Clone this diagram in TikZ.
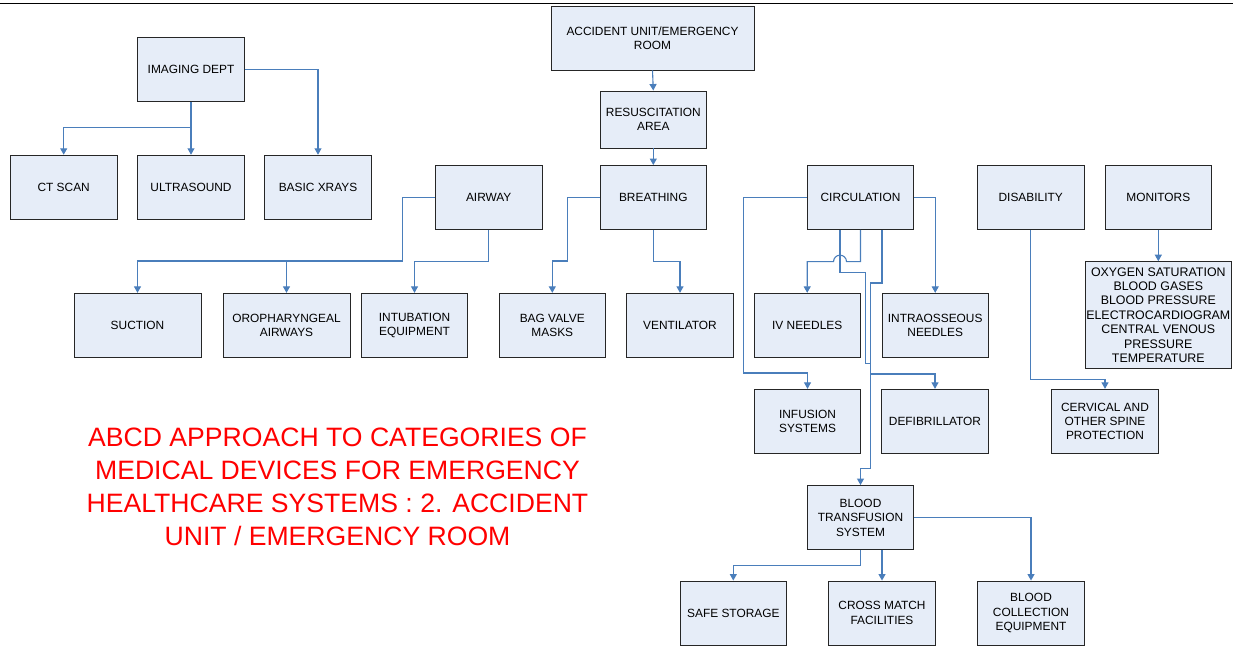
\documentclass[tikz,border=0pt]{standalone}
\usepackage{fontspec}
\setmainfont{Liberation Sans}
\usetikzlibrary{arrows.meta}
\definecolor{boxfill}{HTML}{E6EDF8}
\definecolor{linkblue}{HTML}{4A7EBB}
\definecolor{titlered}{HTML}{FF0000}
\begin{document}
\begin{tikzpicture}[x=1pt,y=-1pt,
  box/.style={draw=black!85, line width=0.9pt, fill=boxfill,
    minimum width=106.5pt, minimum height=64pt, inner sep=0pt,
    align=center, font=\fontsize{11.9}{14.4}\selectfont},
  widebox/.style={box, minimum width=127pt},
  link/.style={draw=linkblue, line width=1.1pt,
    -{Triangle[width=7pt,length=6.5pt]}},
]
\useasboundingbox (0,0) rectangle (1233,646);
% header rule
\draw[line width=1pt] (0,3) -- (1233,3);

% main spine
\node[box, minimum width=203pt] (acc) at (652.5,38) {ACCIDENT UNIT/EMERGENCY\\ROOM};
\node[box, minimum height=57pt] (resus) at (653.3,119.5) {RESUSCITATION\\AREA};
\node[box] (breath) at (653.3,197.5) {BREATHING};

% imaging
\node[box] (img) at (191,69.5) {IMAGING DEPT};
\node[box] (ct) at (63.7,187.2) {CT SCAN};
\node[box] (us) at (191,187.2) {ULTRASOUND};
\node[box] (xray) at (318,187.2) {BASIC XRAYS};

% airway
\node[box] (air) at (488.7,197.5) {AIRWAY};
\node[widebox] (suct) at (137.5,325.3) {SUCTION};
\node[widebox] (oro) at (286.5,325.3) {OROPHARYNGEAL\\AIRWAYS};
\node[box] (intub) at (414.5,325.3) {INTUBATION\\EQUIPMENT};

% breathing
\node[box] (bvm) at (552.3,325.3) {BAG VALVE\\MASKS};
\node[box] (vent) at (680,325.3) {VENTILATOR};

% circulation
\node[box] (circ) at (860.5,197.5) {CIRCULATION};
\node[box] (ivn) at (807.2,325.3) {IV NEEDLES};
\node[box] (ion) at (935.2,325.3) {INTRAOSSEOUS\\NEEDLES};
\node[box] (inf) at (807.5,421.3) {INFUSION\\SYSTEMS};
\node[box] (defib) at (935,421.3) {DEFIBRILLATOR};
\node[box] (bts) at (860.5,517.5) {BLOOD\\TRANSFUSION\\SYSTEM};
\node[box] (safe) at (733.3,613) {SAFE STORAGE};
\node[box] (xmatch) at (882,613) {CROSS MATCH\\FACILITIES};
\node[box] (bce) at (1031,613) {BLOOD\\COLLECTION\\EQUIPMENT};

% disability and monitors
\node[box] (dis) at (1030.7,197.5) {DISABILITY};
\node[box] (mon) at (1158.3,197.5) {MONITORS};
\node[box, minimum width=146.7pt, minimum height=106.7pt,
  font=\fontsize{12.4}{14.4}\selectfont] (monlist) at (1158.3,315)
  {OXYGEN SATURATION\\BLOOD GASES\\BLOOD PRESSURE\\ELECTROCARDIOGRAM\\CENTRAL VENOUS\\PRESSURE\\TEMPERATURE};
\node[box] (cerv) at (1105,421.3) {CERVICAL AND\\OTHER SPINE\\PROTECTION};

% title
\node[text=titlered, align=center, inner sep=0pt,
  font=\fontsize{26.6}{32.8}\selectfont] (title) at (337.5,487)
  {ABCD APPROACH TO CATEGORIES OF\\MEDICAL DEVICES FOR EMERGENCY\\HEALTHCARE SYSTEMS : 2. ACCIDENT\\UNIT / EMERGENCY ROOM};

% connectors: spine
\draw[link] (acc.south) -- (resus.north);
\draw[link] (resus.south) -- (breath.north);

% connectors: imaging
\draw[link] (img.south) -- ++(0,25.6) -| (ct.north);
\draw[link] (img.south) -- (us.north);
\draw[link] (img.east) -| (xray.north);

% connectors: airway
\draw[link] (air.west) -- ++(-32.7,0) -- ++(0,63.5) -| (suct.north);
\draw[link] (air.west) -- ++(-32.7,0) -- ++(0,63.5) -| (oro.north);
\draw[link] (air.south) -- ++(0,31.7) -| (intub.north);

% connectors: breathing
\draw[link] (breath.west) -- ++(-32,0) -- ++(0,63.5) -| (bvm.north);
\draw[link] (breath.south) -- ++(0,31.7) -| (vent.north);

% connectors: circulation
\draw[link] (circ.west) -- ++(-63.3,0) -- ++(0,175.5) -| (inf.north);
\draw[link] (circ.east) -| (ion.north);
\draw[link] (circ.south) -- ++(0,31.7) -- ++(-14,0)
  arc[start angle=0, end angle=-180, radius=6.5] -| (ivn.north);
\draw[link] ([xshift=-20.5pt]circ.south) -- ++(0,42.5) -- ++(25.5,0)
  -- ++(0,91) -- ++(5,0) -- ++(0,105) -| (bts.north);
\draw[link] ([xshift=21.5pt]circ.south) -- ++(0,53) -- ++(-11.5,0)
  -- ++(0,91) -| (defib.north);

% connectors: blood transfusion
\draw[link] (bts.south) -- ++(0,15.7) -| (safe.north);
\draw[link] ([xshift=21.5pt]bts.south) -- (xmatch.north);
\draw[link] (bts.east) -| (bce.north);

% connectors: disability and monitors
\draw[link] (dis.south) -- ++(0,149.7) -| (cerv.north);
\draw[link] (mon.south) -- (monlist.north);
\end{tikzpicture}
\end{document}
